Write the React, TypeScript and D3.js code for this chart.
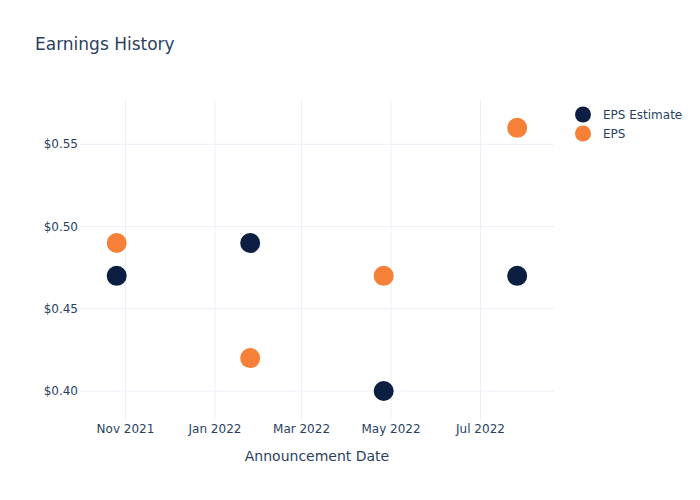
import React from "react";
import * as d3 from "d3";

const dates = ["2021-10-26", "2022-01-25", "2022-04-26", "2022-07-26"];
const epsEstimate = [0.47, 0.49, 0.40, 0.47];
const eps = [0.49, 0.42, 0.47, 0.56];
const yTicks = [0.40, 0.45, 0.50, 0.55];
const xTicks = ["2021-11-01", "2022-01-01", "2022-03-01", "2022-05-01", "2022-07-01"];
const seriesNames = ["EPS Estimate", "EPS"];
const colors = ["#0c1f42", "#f68038"];

const W = 700, H = 500;
const L = 80, R = 554, T = 100, B = 420;
const font = "'DejaVu Sans', 'Open Sans', Verdana, sans-serif";
const textColor = "#2a3f5f";

export default function App() {
  const parse = d3.utcParse("%Y-%m-%d");
  const n1 = parse("2021-11-01")!.getTime();
  const j1 = parse("2022-07-01")!.getTime();
  const xa = 125.5, xb = 480.5;
  const pxPerMs = (xb - xa) / (j1 - n1);
  const x = d3.scaleUtc()
    .domain([new Date(n1 - (xa - L) / pxPerMs), new Date(n1 + (R - xa) / pxPerMs)])
    .range([L, R]);

  const ya = 391, yb = 144.3;
  const pxPerUnit = (ya - yb) / 0.15;
  const y = d3.scaleLinear()
    .domain([0.40 - (B - ya) / pxPerUnit, 0.55 + (yb - T) / pxPerUnit])
    .range([B, T]);

  const fmtX = d3.utcFormat("%b %Y");
  const series = [epsEstimate, eps];

  return (
    <svg width={W} height={H} style={{ position: "absolute", left: 0, top: 0, background: "#fff" }} fontFamily={font}>
      <rect width={W} height={H} fill="#fff" />
      {xTicks.map((t) => {
        const px = x(parse(t)!);
        return <line key={t} x1={px} x2={px} y1={T} y2={B} stroke="#ebf0f8" strokeWidth={1} />;
      })}
      {yTicks.map((t) => (
        <line key={t} x1={L} x2={R} y1={y(t)} y2={y(t)} stroke="#ebf0f8" strokeWidth={1} />
      ))}
      {xTicks.map((t) => (
        <text key={t} x={x(parse(t)!)} y={433} textAnchor="middle" fontSize={12} fill={textColor}>
          {fmtX(parse(t)!)}
        </text>
      ))}
      {yTicks.map((t) => (
        <text key={t} x={78} y={y(t) + 4} textAnchor="end" fontSize={12} fill={textColor}>
          {"$" + t.toFixed(2)}
        </text>
      ))}
      {series.map((s, si) =>
        s.map((v, i) => (
          <circle key={si + "-" + i} cx={x(parse(dates[i])!)} cy={y(v)} r={10} fill={colors[si]} />
        ))
      )}
      <text x={35} y={50} fontSize={17} fill={textColor}>Earnings History</text>
      <text x={(L + R) / 2} y={461} textAnchor="middle" fontSize={14} fill={textColor}>Announcement Date</text>
      {seriesNames.map((n, i) => (
        <g key={n} transform={`translate(583, ${114.5 + i * 19})`}>
          <circle r={8} fill={colors[i]} />
          <text x={20} y={4} fontSize={12} fill={textColor}>{n}</text>
        </g>
      ))}
    </svg>
  );
}
